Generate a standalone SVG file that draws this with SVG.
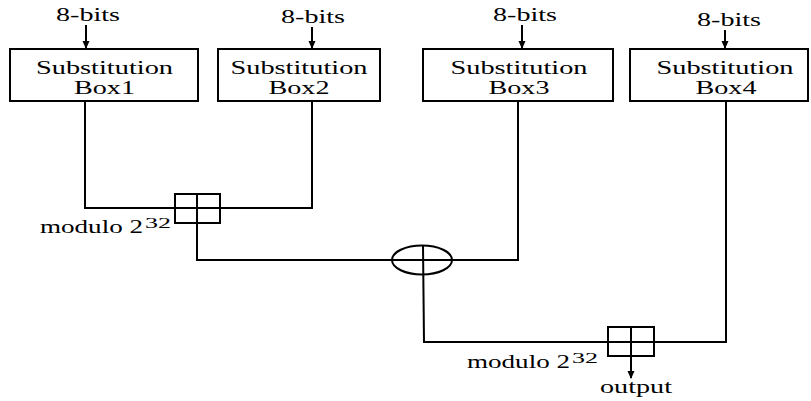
<svg xmlns="http://www.w3.org/2000/svg" width="811" height="401" viewBox="0 0 811 401" font-family="Liberation Serif, Times New Roman, serif" font-size="19">
<style>
.box{fill:#fff;stroke:#000;stroke-width:2}
.ln{fill:none;stroke:#000;stroke-width:2}
.t{text-anchor:middle}
</style>
<defs>
<marker id="ah" markerWidth="8" markerHeight="9" refX="7" refY="4" orient="auto" markerUnits="userSpaceOnUse">
<path d="M0,0.5 L8,4 L0,7.5 Z" fill="#000"/>
</marker>
</defs>
<rect width="811" height="401" fill="#fff"/>
<g id="connectors">
<line class="ln" x1="86" y1="25" x2="86" y2="48" marker-end="url(#ah)"/>
<line class="ln" x1="312" y1="27" x2="312" y2="48" marker-end="url(#ah)"/>
<line class="ln" x1="522" y1="25" x2="522" y2="48" marker-end="url(#ah)"/>
<line class="ln" x1="725" y1="30" x2="725" y2="48" marker-end="url(#ah)"/>
<polyline class="ln" points="85,102 85,208 175,208"/>
<polyline class="ln" points="312,102 312,208 220,208"/>
<polyline class="ln" points="197,223 197,260 392,260"/>
<polyline class="ln" points="518,102 518,260 452,260"/>
<polyline class="ln" points="423,245 424,342 608,342"/>
<polyline class="ln" points="726,102 726,342 654,342"/>
<line class="ln" x1="631" y1="356" x2="631" y2="378" marker-end="url(#ah)"/>
</g>
<g id="sbox1">
<rect class="box" x="10" y="49" width="188" height="52"/>
<text class="t" x="104.5" y="74" textLength="137" lengthAdjust="spacingAndGlyphs">Substitution</text>
<text class="t" x="104.5" y="94" textLength="61" lengthAdjust="spacingAndGlyphs">Box1</text>
<text class="t" x="88" y="21" textLength="64" lengthAdjust="spacingAndGlyphs">8-bits</text>
</g>
<g id="sbox2">
<rect class="box" x="218" y="49" width="162" height="52"/>
<text class="t" x="299" y="74" textLength="137" lengthAdjust="spacingAndGlyphs">Substitution</text>
<text class="t" x="299" y="94" textLength="61" lengthAdjust="spacingAndGlyphs">Box2</text>
<text class="t" x="313" y="23" textLength="64" lengthAdjust="spacingAndGlyphs">8-bits</text>
</g>
<g id="sbox3">
<rect class="box" x="423" y="49" width="190" height="52"/>
<text class="t" x="519" y="74" textLength="137" lengthAdjust="spacingAndGlyphs">Substitution</text>
<text class="t" x="519" y="94" textLength="61" lengthAdjust="spacingAndGlyphs">Box3</text>
<text class="t" x="525" y="21" textLength="64" lengthAdjust="spacingAndGlyphs">8-bits</text>
</g>
<g id="sbox4">
<rect class="box" x="630" y="49" width="178" height="52"/>
<text class="t" x="725" y="74" textLength="137" lengthAdjust="spacingAndGlyphs">Substitution</text>
<text class="t" x="726" y="94" textLength="61" lengthAdjust="spacingAndGlyphs">Box4</text>
<text class="t" x="729" y="26" textLength="64" lengthAdjust="spacingAndGlyphs">8-bits</text>
</g>
<g id="add1">
<rect class="box" x="175" y="194" width="45" height="29"/>
<line class="ln" x1="197" y1="194" x2="197" y2="223"/>
<line class="ln" x1="175" y1="208" x2="220" y2="208"/>
<text x="40" y="233" textLength="103" lengthAdjust="spacingAndGlyphs">modulo 2</text>
<text x="145" y="228" font-size="15" textLength="26" lengthAdjust="spacingAndGlyphs">32</text>
</g>
<g id="xor">
<ellipse class="ln" cx="422" cy="260" rx="30" ry="14.5"/>
<line class="ln" x1="392" y1="260" x2="452" y2="260"/>
</g>
<g id="add2">
<rect class="box" x="608" y="327" width="46" height="29"/>
<line class="ln" x1="631" y1="327" x2="631" y2="356"/>
<line class="ln" x1="608" y1="342" x2="654" y2="342"/>
<text x="467" y="368" textLength="103" lengthAdjust="spacingAndGlyphs">modulo 2</text>
<text x="572" y="363" font-size="15" textLength="26" lengthAdjust="spacingAndGlyphs">32</text>
<text x="600" y="393" textLength="72" lengthAdjust="spacingAndGlyphs">output</text>
</g>
</svg>
